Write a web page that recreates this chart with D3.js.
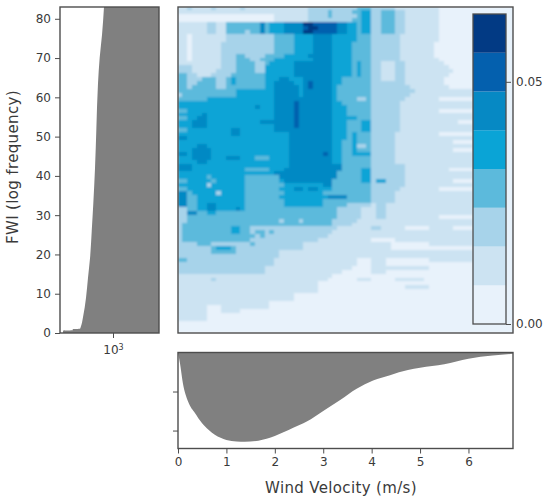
<!DOCTYPE html>
<html><head><meta charset="utf-8">
<script src="https://cdnjs.cloudflare.com/ajax/libs/d3/7.8.5/d3.min.js"></script>
<style>html,body{margin:0;padding:0;background:#fff}svg{display:block}
text{font-family:"DejaVu Sans",sans-serif;fill:#3a3a3a}</style></head><body>
<svg id="c" width="550" height="503"></svg>
<script>
const levelColors = ["#e8f2fb","#cce3f2","#a7d3ea","#5cbadc","#0aa4d6","#0689c4","#0460ae","#023a84"];
const levelStep = 0.008;
const colorbarTicks = [0, 0.05];
const xTicks = [0,1,2,3,4,5,6];
const yTicks = [0,10,20,30,40,50,60,70,80];
const binWidth = 0.1;
// Contour level per wind-velocity bin (columns, grouped per 1 m/s) and FWI bin (rows, top = FWI 83)
const heatRows = [
"1121111211 1112111111 1111111222 2222222333 2222211111 1111000000 0000000000",
"1111111111 1111111111 1111111222 2322223344 2233322111 1111000000 0000000000",
"0000000000 0000000000 1111111222 2322222344 2233322111 1111000000 0000000000",
"0000000000 0000000000 1111111222 2222223344 2233322111 1111000000 0000000000",
"1111112211 3333333534 4455557766 6665544344 2233322111 1111000000 0000000000",
"1111112211 3333333534 4455556776 6665544344 2233322111 1111000000 0000000000",
"1111112211 3333233534 4455557766 6665544344 2233322111 1111000000 0000000000",
"1101111111 2222222222 3333444455 5544444333 2222221111 1111000000 0000000000",
"1101111111 2222222222 3333444455 5544444333 2222221111 1111000000 0000000000",
"1101111112 2222222222 3333444455 5544443333 2222221111 1110000000 0000000000",
"1101111112 2222222222 3333444455 5544443333 2222221111 1110000000 0000000000",
"1101111112 2222222222 3333444455 5544443333 2222221111 1110000000 0000000000",
"1101111112 2233222233 3344444555 5544443333 2222221111 1110000000 0000000000",
"1101111112 2233322333 4444444455 5544443333 2222221111 1111000000 0000000000",
"1111111112 2233332234 4444555555 5544443433 2211122111 1111100000 0000000000",
"2221111112 2233332244 4444555555 5544443433 2211122111 1111110000 0000000000",
"2221111122 2233332244 4444555555 5544443433 2211122111 1111111000 0000000000",
"3322111222 2333333344 4444555555 5544443433 2211122111 1111110000 0000000000",
"3322233322 3433333344 4554445555 5544333333 2211122111 1111100000 0000000000",
"3322333322 3433333344 5555445655 5544333333 2222222111 1111100000 0000000000",
"3323333322 3333333344 5555545655 5543333333 2222222211 1111110000 0000000000",
"3333333333 3344444444 5555545555 5543333333 2222222221 1111111111 1000000000",
"2333333333 3344444444 5555545555 5543333333 2222222211 1111111111 1000000000",
"3333334444 4444444444 5555555555 5543333223 2222222111 1111000000 0000000000",
"4444444444 4444444444 5555655555 5544333333 2222221111 1111111111 1000000000",
"4444444444 4444445444 5555655555 5544433333 2222221111 1111111111 1000000000",
"3344444444 4444444444 5555655555 5544433333 2222221111 1111000000 0000000000",
"4444454444 4444444444 5555655555 5544433333 2222221111 1111111111 1000000000",
"3344554444 4444444444 5555655555 5544444333 2222221111 1111111111 1000000000",
"4445554444 4444444555 5555655555 5544433344 2222221111 1111111100 0000000000",
"4445554444 4444444444 5555655555 5544433344 2222221111 1111111111 1000000000",
"3344444444 4554444444 5555555555 5544433344 2222221111 1111111111 1000000000",
"4444444444 4554444444 4445555555 5544434333 2222211111 1111000000 0000000000",
"5544444444 4444444444 4445555555 5544434333 2222211111 1111111111 1000000000",
"4444444444 4444444444 4445555555 5544334333 2222211111 1111111000 0000000000",
"4444554444 4444444444 4445555555 5544334223 2222211111 1111111111 1000000000",
"4445555444 4444444444 4445555555 5544334333 2222211111 1111111000 0000000000",
"5545555444 4444444444 4445555555 6544334444 2222211111 1111111111 1000000000",
"4445555444 5554443334 4445555555 5544333333 2222211111 1111111111 1000000000",
"4444554444 4444444444 4445555555 5544333333 2222211111 1111111111 1000000000",
"5554444444 4444444444 4445555555 5555333333 2222222111 1111111111 1000000000",
"5554444444 4444333334 4455555555 5555333344 2222222111 1111110000 0000000000",
"4444444444 4444444444 5555555555 5553333344 2222222111 1111111111 1000000000",
"4444443444 4444333333 3555555555 5553333344 2222222111 1111111111 1000000000",
"3344444344 4444333333 3455555555 5533333344 2442222111 1111111000 0000000000",
"4444442444 4444333333 3344444444 5533333333 2222222111 1111111111 1000000000",
"3344444444 4444333333 3444554554 4433333333 2222221111 1111000000 0000000000",
"5534444424 4444333333 3344444444 3333333333 2222211111 1111111111 1000000000",
"5533444444 4444333333 3444444444 4555533333 2222211111 1111111111 1000000000",
"5533444444 4444333333 3344444444 3333333333 2222211111 1111111111 1000000000",
"5533445544 4444333333 3344444444 3333322222 1221111111 1111111111 1000000000",
"2233445544 4454333333 3333333333 3332222211 1221111111 1111111111 1000000000",
"2255334433 3333333333 3333333333 3332222211 1221111111 1111111111 1000000000",
"2233333333 3333333333 3333333333 3332222211 1221111111 1111000000 0000000000",
"2233333333 3333333333 3233323333 3322222111 1111111111 1111111111 1000000000",
"2333333333 3333333333 3333333333 3322221111 1111111111 1111111111 1000000000",
"2333333333 3443322222 2222222222 2221111111 2211111000 0011111000 0000000000",
"2333333333 3443323323 2222222222 2211111111 1111111111 1111111111 1000000000",
"2333333333 3333332322 2222222222 2111111111 1111111111 1111111111 1000000000",
"2333333333 3333322222 2222222221 1111111111 0000011111 1111111111 1000000000",
"2222333222 2222232222 2222221111 1111111111 1111000000 0011111111 1000000000",
"2222222344 4322222222 2222221111 1111111111 1111000000 0000000000 0000000000",
"2222222333 3322222222 2111111111 1111111111 1111111111 1111111111 1000000000",
"2222222222 2222222222 2111111111 1111111111 1111111111 1111111111 1000000000",
"3322222222 2222222222 1111111111 1111111000 1110000000 0011111111 1000000000",
"2222222222 2222222222 1111111111 1111111000 1110000000 0000000000 0000000000",
"2222222222 2222222211 1111111111 1111110000 1111111111 1100000000 0000000000",
"2222222222 2222222211 1111111111 1111000000 1110000000 0000000000 0000000000",
"1111111111 1111111111 1111111111 1100000000 0000000000 0000000000 0000000000",
"1111111211 1111111111 1111111111 1000000111 0000011111 1000000000 0000000000",
"1111111111 1111111111 1111111110 0000000000 0000000000 0000000000 0000000000",
"1111111111 1111111111 1111111110 0000000000 0000000111 1100000000 0000000000",
"1111111111 1111111111 1111111110 0000000000 0000000000 0000000000 0000000000",
"1111111111 1111111111 1111000000 0000000000 0000000000 0000000000 0000000000",
"1111111111 1111111111 1111000000 0000000000 0000000000 0000000000 0000000000",
"1111111111 1111111110 0000000000 0000000000 0000000000 0000000000 0000000000",
"1111110001 1111111110 0000000000 0000000000 0000000000 0000000000 0000000000",
"1111110001 1110000000 0000000000 0000000000 0000000000 0000000000 0000000000",
"1111110000 0000000000 0000000000 0000000000 0000000000 0000000000 0000000000",
"1111110000 0000000000 0000000000 0000000000 0000000000 0000000000 0000000000",
"0000000000 0000000000 0000000000 0000000000 0000000000 0000000000 0000000000",
"0000000000 0000000000 0000000000 0000000000 0000000000 0000000000 0000000000",
"0000000000 0000000000 0000000000 0000000000 0000000000 0000000000 0000000000"
];
// Left marginal: FWI vs count (log axis, growing leftwards)
const fwiValues = [0,0.6,0.7,1,1.1,1.5,4,9,14,19,26,33,42,52,63.5,70,76,83];
const fwiCounts = [12200,12200,7500,7500,5200,5030,4490,3860,3500,3160,2900,2680,2460,2300,2120,1950,1730,1570];
// Bottom marginal: wind velocity vs count
const windValues = [0,0.04,0.1,0.21,0.35,0.49,0.63,0.76,1,1.21,1.38,1.66,2,2.38,2.66,3,3.35,3.69,4.03,4.38,4.75,5,5.5,6,6.5,6.92];
const windCounts = [0,2700,7800,12600,15500,18000,19800,21100,22400,22800,22900,22600,21400,19300,17700,15000,12200,9300,7200,5800,4500,3900,3000,1600,800,350];
const windTicks = [10000,20000];

const frame = "#4d4d4d", gray = "#808080";
const svg = d3.select("#c");
const defs = svg.append("defs");
defs.append("filter").attr("id","soft").attr("x",0).attr("y",0).attr("width",1).attr("height",1)
  .append("feGaussianBlur").attr("stdDeviation",0.9);
defs.append("clipPath").attr("id","mainClip").append("rect").attr("x",178).attr("y",7).attr("width",335).attr("height",326);

const x = d3.scaleLinear().domain([0,6.92]).range([178,513]);
const y = d3.scaleLinear().domain([0,83]).range([333,7]);
const levelScale = d3.scaleQuantize().domain([0,levelColors.length*levelStep]).range(levelColors);

function styleAxis(g){
  g.selectAll("path.domain").remove();
  g.selectAll("line").attr("stroke",frame).attr("stroke-width",1);
  g.selectAll("text").attr("font-size",12).attr("fill","#3a3a3a");
}
function box(x0,y0,x1,y1,w){
  svg.append("rect").attr("x",x0).attr("y",y0).attr("width",x1-x0).attr("height",y1-y0)
    .attr("fill","none").attr("stroke",frame).attr("stroke-width",w||1.4);
}

// heat map
const cells = [];
heatRows.forEach((row,k)=>{
  row.replace(/ /g,"").split("").forEach((d,c)=>cells.push({c,k,v:(+d+0.5)*levelStep}));
});
const heat = svg.append("g").attr("clip-path","url(#mainClip)").append("g").attr("filter","url(#soft)");
heat.selectAll("rect").data(cells).join("rect")
  .attr("x",d=>Math.floor(x(d.c*binWidth)))
  .attr("y",d=>Math.floor(y(83-d.k)))
  .attr("width",d=>Math.ceil(x((d.c+1)*binWidth))-Math.floor(x(d.c*binWidth)))
  .attr("height",d=>Math.ceil(y(82-d.k))-Math.floor(y(83-d.k)))
  .attr("fill",d=>levelScale(d.v));
box(178,7,513,333);

// colour bar
const cbY = d3.scaleLinear().domain([0,levelColors.length*levelStep]).range([324,14]);
svg.append("g").selectAll("rect").data(levelColors).join("rect")
  .attr("x",473).attr("width",33)
  .attr("y",(d,i)=>cbY((i+1)*levelStep))
  .attr("height",(d,i)=>cbY(i*levelStep)-cbY((i+1)*levelStep))
  .attr("fill",d=>d);
box(473,14,506,324,1.3);
svg.append("g").attr("transform","translate(506,0)")
  .call(d3.axisRight(cbY).tickValues(colorbarTicks).tickFormat(d3.format(".2f")).tickSize(5).tickPadding(5))
  .call(styleAxis);

// left marginal
const cx = d3.scaleLog().domain([1e2,10**(3+53/46)]).range([159,60]);
const leftArea = d3.area().y(d=>y(d[0])).x0(159).x1(d=>cx(d[1])).curve(d3.curveMonotoneY);
svg.append("path").datum(fwiValues.map((v,i)=>[v,fwiCounts[i]]))
  .attr("d",leftArea).attr("fill",gray);
box(60,7,159,333);
svg.append("g").attr("transform","translate(60,0)")
  .call(d3.axisLeft(y).tickValues(yTicks).tickSize(5).tickPadding(4)).call(styleAxis);
const gl = svg.append("g").attr("transform","translate(0,333)")
  .call(d3.axisBottom(cx).tickValues([1000]).tickFormat(()=>"").tickSize(5)).call(styleAxis);
const expo = gl.select(".tick").append("text").attr("y",21).attr("text-anchor","middle").attr("font-size",12).attr("fill","#3a3a3a");
expo.append("tspan").text("10");
expo.append("tspan").attr("dy",-4).attr("font-size",8).text("3");

// bottom marginal
const wy = d3.scaleLinear().domain([0,24600]).range([352.5,448.5]);
const bottomArea = d3.area().x(d=>x(d[0])).y0(wy(0)).y1(d=>wy(d[1])).curve(d3.curveMonotoneX);
svg.append("path").datum(windValues.map((v,i)=>[v,windCounts[i]]))
  .attr("d",bottomArea).attr("fill",gray);
box(178,352.5,513,448.5);
svg.append("g").attr("transform","translate(178,0)")
  .call(d3.axisLeft(wy).tickValues(windTicks).tickFormat("").tickSize(5)).call(styleAxis);
svg.append("g").attr("transform","translate(0,448.5)")
  .call(d3.axisBottom(x).tickValues(xTicks).tickFormat(d3.format("d")).tickSize(5).tickPadding(4)).call(styleAxis);

// titles
svg.append("text").attr("x",341).attr("y",493).attr("text-anchor","middle")
  .attr("font-size",15).attr("letter-spacing",0.35).text("Wind Velocity (m/s)");
svg.append("text").attr("transform","translate(18,167) rotate(-90)").attr("text-anchor","middle")
  .attr("font-size",15).attr("letter-spacing",0.35).text("FWI (log frequency)");
</script></body></html>
